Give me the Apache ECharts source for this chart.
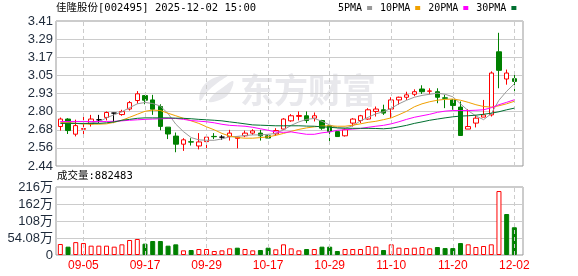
<!DOCTYPE html>
<html><head><meta charset="utf-8">
<script src="https://cdn.jsdelivr.net/npm/echarts@6/dist/echarts.min.js"></script>
<style>html,body{margin:0;padding:0;background:#fff}#c{width:578px;height:276px}</style>
</head><body><div id="c"></div>
<script>
const dates = ['09-02','09-03','09-04','09-05','09-08','09-09','09-10','09-11','09-12','09-15','09-16','09-17','09-18','09-19','09-22','09-23','09-24','09-25','09-26','09-29','09-30','10-09','10-10','10-13','10-14','10-15','10-16','10-17','10-20','10-21','10-22','10-23','10-24','10-27','10-28','10-29','10-30','10-31','11-03','11-04','11-05','11-06','11-07','11-10','11-11','11-12','11-13','11-14','11-17','11-18','11-19','11-20','11-21','11-24','11-25','11-26','11-27','11-28','12-01','12-02'];
const opens  = [2.704,2.754,2.653,2.686,2.722,2.749,2.765,2.794,2.784,2.821,2.878,2.911,2.882,2.838,2.700,2.640,2.586,2.602,2.574,2.603,2.638,2.633,2.637,2.625,2.642,2.660,2.660,2.642,2.655,2.687,2.742,2.772,2.776,2.760,2.744,2.709,2.670,2.642,2.727,2.744,2.754,2.805,2.816,2.821,2.882,2.900,2.920,2.955,2.940,2.937,2.896,2.882,2.834,2.687,2.727,2.767,2.782,3.204,3.022,3.024];
const closes = [2.754,2.677,2.710,2.690,2.754,2.749,2.798,2.794,2.804,2.864,2.923,2.880,2.820,2.705,2.654,2.586,2.615,2.600,2.601,2.633,2.636,2.633,2.660,2.633,2.660,2.675,2.642,2.627,2.677,2.754,2.776,2.778,2.744,2.776,2.693,2.670,2.637,2.682,2.754,2.776,2.816,2.821,2.794,2.882,2.900,2.916,2.937,2.937,2.942,2.900,2.893,2.845,2.644,2.704,2.760,2.782,3.062,3.080,3.062,3.006];
const lows   = [2.677,2.654,2.638,2.637,2.704,2.727,2.745,2.727,2.776,2.811,2.857,2.853,2.782,2.679,2.620,2.532,2.541,2.577,2.551,2.554,2.620,2.615,2.610,2.558,2.633,2.648,2.610,2.627,2.642,2.682,2.736,2.745,2.727,2.738,2.682,2.595,2.637,2.637,2.704,2.727,2.749,2.771,2.782,2.760,2.850,2.882,2.907,2.922,2.920,2.860,2.827,2.816,2.644,2.687,2.698,2.767,2.771,2.960,2.984,2.940];
const highs  = [2.764,2.760,2.750,2.794,2.782,2.782,2.805,2.796,2.816,2.875,2.941,2.913,2.916,2.853,2.700,2.664,2.626,2.626,2.660,2.648,2.660,2.646,2.682,2.636,2.677,2.686,2.682,2.648,2.693,2.760,2.787,2.805,2.805,2.798,2.749,2.709,2.670,2.693,2.760,2.782,2.827,2.838,2.850,2.900,2.904,2.937,2.953,2.980,2.960,2.960,2.916,2.887,2.872,2.820,2.782,2.882,3.073,3.331,3.085,3.057];
const volumes = [350000,265000,410000,380000,297000,297000,297000,265000,339000,477000,509000,360000,445000,445000,297000,339000,148000,159000,190000,190000,127000,148000,212000,233000,190000,148000,159000,233000,180000,339000,212000,148000,190000,190000,265000,265000,127000,190000,190000,190000,286000,265000,159000,339000,233000,220000,233000,254000,212000,254000,220000,220000,380000,339000,254000,286000,339000,2035000,1304000,882483];
const volumeUp = [1,0,1,1,1,1,1,1,1,1,1,0,0,0,0,0,1,0,1,1,1,1,1,0,1,1,0,0,1,1,1,1,0,1,0,0,0,1,1,1,1,1,0,1,1,1,1,1,1,0,0,0,0,1,1,1,1,1,0,0];
const dojiBlack = [5,7,21];
const ma5  = [2.735,2.729,2.725,2.722,2.729,2.735,2.762,2.783,2.803,2.830,2.856,2.865,2.858,2.841,2.790,2.720,2.670,2.630,2.615,2.612,2.612,2.621,2.635,2.638,2.644,2.648,2.648,2.652,2.658,2.682,2.712,2.735,2.752,2.758,2.739,2.715,2.695,2.693,2.709,2.742,2.766,2.789,2.803,2.826,2.856,2.880,2.900,2.912,2.920,2.927,2.920,2.903,2.856,2.810,2.775,2.750,2.790,2.880,2.940,2.990];
const ma10 = [2.729,2.729,2.725,2.722,2.720,2.720,2.722,2.732,2.746,2.766,2.786,2.806,2.814,2.811,2.793,2.776,2.759,2.742,2.725,2.702,2.682,2.658,2.640,2.630,2.626,2.626,2.630,2.635,2.645,2.658,2.672,2.685,2.695,2.702,2.707,2.709,2.706,2.706,2.713,2.722,2.732,2.739,2.750,2.762,2.783,2.806,2.836,2.856,2.870,2.880,2.886,2.888,2.880,2.866,2.850,2.838,2.834,2.843,2.856,2.873];
const ma20 = [2.738,2.738,2.738,2.738,2.738,2.738,2.738,2.739,2.742,2.746,2.749,2.752,2.754,2.756,2.758,2.758,2.752,2.744,2.740,2.736,2.729,2.719,2.712,2.709,2.706,2.699,2.689,2.679,2.668,2.665,2.668,2.660,2.652,2.652,2.662,2.668,2.679,2.682,2.687,2.691,2.699,2.706,2.712,2.722,2.736,2.752,2.766,2.776,2.786,2.799,2.807,2.811,2.811,2.811,2.813,2.816,2.830,2.850,2.866,2.883];
const ma30 = [2.725,2.725,2.725,2.725,2.725,2.725,2.729,2.735,2.746,2.752,2.759,2.762,2.762,2.762,2.762,2.760,2.759,2.756,2.752,2.749,2.746,2.742,2.735,2.729,2.722,2.715,2.713,2.711,2.709,2.709,2.709,2.709,2.707,2.706,2.702,2.699,2.695,2.693,2.692,2.692,2.692,2.691,2.689,2.693,2.702,2.712,2.725,2.735,2.746,2.754,2.762,2.769,2.774,2.776,2.780,2.786,2.793,2.803,2.816,2.827];
const priceTicks = ['2.44','2.56','2.68','2.80','2.93','3.05','3.17','3.29','3.41'];
const volumeTicks = ['0','54.08万','108万','162万','216万'];
const labelDates = ['09-05','09-17','09-29','10-17','10-29','11-10','11-20','12-02'];
const priceMin = 2.44, priceMax = 3.41, volumeMax = 2163200;
const titleText = '佳隆股份[002495] 2025-12-02 15:00';
const volumeTitle = '成交量:882483';

const RED = '#ff0000', GREEN = '#008000';
const monoFont = "'DejaVu Sans Mono','Noto Sans CJK SC'";
const labelFont = "'Liberation Sans','Noto Sans CJK SC'";

const candleData = dates.map((d, i) => {
  const v = [opens[i], closes[i], lows[i], highs[i]];
  if (dojiBlack.includes(i)) {
    return {value: v, itemStyle: {color:'#000', color0:'#000', borderColor:'#000', borderColor0:'#000', borderColorDoji:'#000'}};
  }
  return v;
});
const volData = volumes.map((v, i) => ({
  value: v,
  itemStyle: volumeUp[i] ? {color:'#fff', borderColor:RED, borderWidth:1} : {color:GREEN, borderColor:GREEN, borderWidth:1}
}));
const vLines = {
  silent: true, symbol: ['none','none'], label: {show:false}, animation:false,
  lineStyle: {color:'#cccccc', type:[4,3], width:1},
  emphasis: {disabled:true},
  data: labelDates.map(d => ({xAxis: d}))
};
const maSeries = (name, data, color) => ({
  name, type:'line', data, xAxisIndex:1, yAxisIndex:1, symbol:'none', z:5,
  lineStyle:{width:1, color}, itemStyle:{color}, silent:true, emphasis:{disabled:true}
});

const chart = echarts.init(document.getElementById('c'), null, {renderer:'canvas'});
chart.setOption({
  animation: false,
  backgroundColor: '#fff',
  title: [
    {text: titleText, left: 56, top: 3, padding: 0, textStyle: {fontSize: 10.5, fontWeight:'normal', color:'#000', fontFamily: monoFont}},
    {text: volumeTitle, left: 57, top: 171, padding: 0, textStyle: {fontSize: 10.5, fontWeight:'normal', color:'#000', fontFamily: monoFont}}
  ],
  legend: {
    left: 338, top: 3, padding: 0, itemGap: 8, itemWidth: 5, itemHeight: 4, align: 'right', icon: 'rect',
    selectedMode: false,
    textStyle: {fontSize: 10, color:'#000', fontFamily: monoFont},
    data: ['5PMA','10PMA','20PMA','30PMA']
  },
  graphic: [
    {type:'text', z:-10, silent:true, x: 240, y: 73, style:{text:'东方财富', fill:'#e8e8ec', font:'bold 34px "Noto Sans CJK SC"'}},
    {type:'polygon', z:-10, silent:true, shape:{points:[[228,75],[210,80],[201,90],[200,101],[207,92],[216,84]], smooth:0.4}, style:{fill:'#e8e8ec'}},
    {type:'polygon', z:-10, silent:true, shape:{points:[[233,81],[222,88],[213,95],[209,102],[222,99],[230,92]], smooth:0.4}, style:{fill:'#e8e8ec'}}
  ],
  grid: [
    {left:56, top:21, width:467, height:145, show:true, borderColor:'#999', borderWidth:1, backgroundColor:'transparent'},
    {left:56.5, top:21, width:461.7, height:145},
    {left:56, top:187, width:467, height:68, show:true, borderColor:'#999', borderWidth:1, backgroundColor:'transparent'},
    {left:56.5, top:187, width:461.7, height:68}
  ],
  xAxis: [
    {gridIndex:0, type:'value', min:0, max:1, show:false},
    {gridIndex:1, type:'category', data:dates, boundaryGap:true, show:false},
    {gridIndex:2, type:'value', min:0, max:1, show:false},
    {gridIndex:3, type:'category', data:dates, boundaryGap:true,
      axisLine:{show:false}, axisTick:{show:false}, splitLine:{show:false},
      axisLabel:{interval:(i, v) => labelDates.includes(v), color:RED, fontSize:12, margin:5, fontFamily:labelFont}}
  ],
  yAxis: [
    {gridIndex:0, type:'value', min:0, max:8, interval:1, axisLine:{show:false}, axisTick:{show:false},
      splitLine:{show:true, lineStyle:{color:'#cccccc', width:1}},
      axisLabel:{formatter:(v) => priceTicks[Math.round(v)], margin:3, fontSize:13, color:'#1e2a3a', fontFamily:labelFont}},
    {gridIndex:1, type:'value', min:priceMin, max:priceMax, show:false},
    {gridIndex:2, type:'value', min:0, max:4, interval:1, axisLine:{show:false}, axisTick:{show:false},
      splitLine:{show:true, lineStyle:{color:'#cccccc', width:1}},
      axisLabel:{formatter:(v) => volumeTicks[Math.round(v)], margin:3, fontSize:13, color:'#1e2a3a', fontFamily:labelFont}},
    {gridIndex:3, type:'value', min:0, max:volumeMax, show:false}
  ],
  series: [
    {type:'candlestick', name:'K', xAxisIndex:1, yAxisIndex:1, data:candleData, barWidth:5, z:3,
      itemStyle:{color:'#fff', color0:GREEN, borderColor:RED, borderColor0:GREEN, borderColorDoji:'#000', borderWidth:1},
      emphasis:{disabled:true}, silent:true, markLine: vLines},
    maSeries('5PMA', ma5, '#999999'),
    maSeries('10PMA', ma10, '#f0a000'),
    maSeries('20PMA', ma20, '#ff00ff'),
    maSeries('30PMA', ma30, '#006f30'),
    {type:'bar', name:'VOL', xAxisIndex:3, yAxisIndex:3, data:volData, barWidth:5, silent:true,
      emphasis:{disabled:true}, markLine: vLines}
  ]
});
</script></body></html>
